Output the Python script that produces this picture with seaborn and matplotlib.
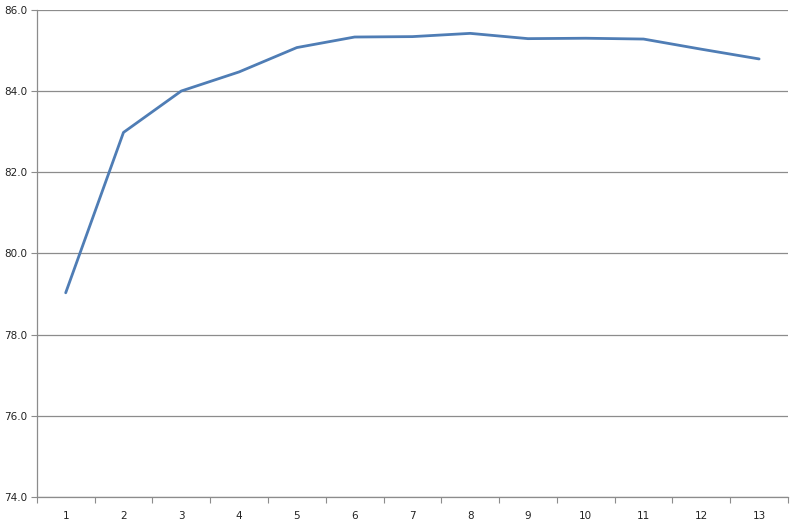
import matplotlib.pyplot as plt
import seaborn as sns
import pandas as pd
import numpy as np

# data
categories = ['1', '2', '3', '4', '5', '6', '7', '8', '9', '10', '11', '12', '13']
values = [79.03, 82.98, 84.0, 84.47, 85.07, 85.33, 85.34, 85.42, 85.29, 85.30, 85.28, 85.03, 84.79]
y_ticks = [74.0, 76.0, 78.0, 80.0, 82.0, 84.0, 86.0]

df = pd.DataFrame({'pos': np.arange(len(categories)), 'value': values})

sns.set_style('white')
plt.rcParams['font.family'] = ['DejaVu Sans']

fig = plt.figure(figsize=(8, 5.25), dpi=100)
ax = fig.add_axes([0.046, 0.0533, 0.939, 0.928])

sns.lineplot(data=df, x='pos', y='value', ax=ax, color='#4f7db5', linewidth=2.0)

ax.set_xlim(-0.5, len(categories) - 0.5)
ax.set_ylim(y_ticks[0], y_ticks[-1])
ax.set_yticks(y_ticks)
ax.set_yticklabels([f'{t:.1f}' for t in y_ticks], fontsize=7.5, color='#222222')
ax.yaxis.grid(True, color='#8c8c8c', linewidth=0.9)
ax.set_axisbelow(True)

# category boundary ticks, labels centred between them
ax.set_xticks(np.arange(len(categories) + 1) - 0.5)
ax.set_xticklabels([])
ax.set_xticks(np.arange(len(categories)), minor=True)
ax.set_xticklabels(categories, minor=True, fontsize=7.5, color='#222222')
ax.tick_params(axis='x', which='major', bottom=True, length=4, color='#8c8c8c', width=0.8, direction='out')
ax.tick_params(axis='x', which='minor', bottom=False, length=0, pad=10)
ax.tick_params(axis='y', left=True, length=4, color='#8c8c8c', width=0.8, direction='out', pad=3)

ax.set_xlabel('')
ax.set_ylabel('')
for side in ['top', 'right']:
    ax.spines[side].set_visible(False)
for side in ['left', 'bottom']:
    ax.spines[side].set_color('#8c8c8c')
    ax.spines[side].set_linewidth(0.9)

fig.savefig('out.png', dpi=100)
